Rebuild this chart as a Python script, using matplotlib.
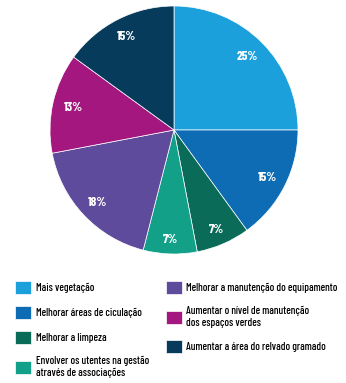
import matplotlib
matplotlib.use("Agg")
import numpy as np
import matplotlib.pyplot as plt
from matplotlib import font_manager

labels = [
    "Mais vegetação",
    "Melhorar áreas de ciculação",
    "Melhorar a limpeza",
    "Envolver os utentes na gestão\natravés de associações",
    "Melhorar a manutenção do equipamento",
    "Aumentar o nível de manutenção\ndos espaços verdes",
    "Aumentar a área do relvado gramado",
]
values = [25, 15, 7, 7, 18, 13, 15]
colors = ["#1ca0dc", "#0e6cb4", "#0a6b58", "#12a088", "#5f4b9c", "#a3177f", "#073b5b"]
label_radius = [0.84, 0.845, 0.87, 0.88, 0.85, 0.83, 0.85]

names = {f.name for f in font_manager.fontManager.ttflist}
cands = ["Barlow Condensed", "Roboto Condensed", "PT Sans Narrow", "Archivo Narrow",
         "Fira Sans Condensed", "Encode Sans Condensed", "DejaVu Sans"]
fam = [c for c in cands if c in names] + ["DejaVu Sans"]
plt.rcParams["font.family"] = fam

fig = plt.figure(figsize=(3.46, 3.83), dpi=100)
ax = fig.add_axes([174/346 - 124/346, 1 - (130 + 124)/383, 248/346, 248/383])
wedges, texts, autotexts = ax.pie(
    values, colors=colors, startangle=90, counterclock=False,
    autopct="%d%%", pctdistance=0.84,
    wedgeprops=dict(linewidth=0.5, edgecolor="white"),
    textprops=dict(color="white", fontsize=9.3, fontweight="bold"),
)
for w, t, r in zip(wedges, autotexts, label_radius):
    ang = np.deg2rad((w.theta1 + w.theta2) / 2)
    t.set_position((r * np.cos(ang), r * np.sin(ang)))
ax.set_aspect("equal")
ax.set_xlim(-1, 1)
ax.set_ylim(-1, 1)

leg = fig.legend(
    wedges, labels, ncol=2, loc="upper left",
    bbox_to_anchor=(15/346, 1 - 281/383), bbox_transform=fig.transFigure,
    frameon=False, handlelength=1.5, handleheight=1.45,
    handletextpad=0.4, labelspacing=1.12, columnspacing=1.55,
    borderaxespad=0, borderpad=0,
    prop=dict(size=7.8, weight="medium"),
)
fig.savefig("out.png", dpi=100)
